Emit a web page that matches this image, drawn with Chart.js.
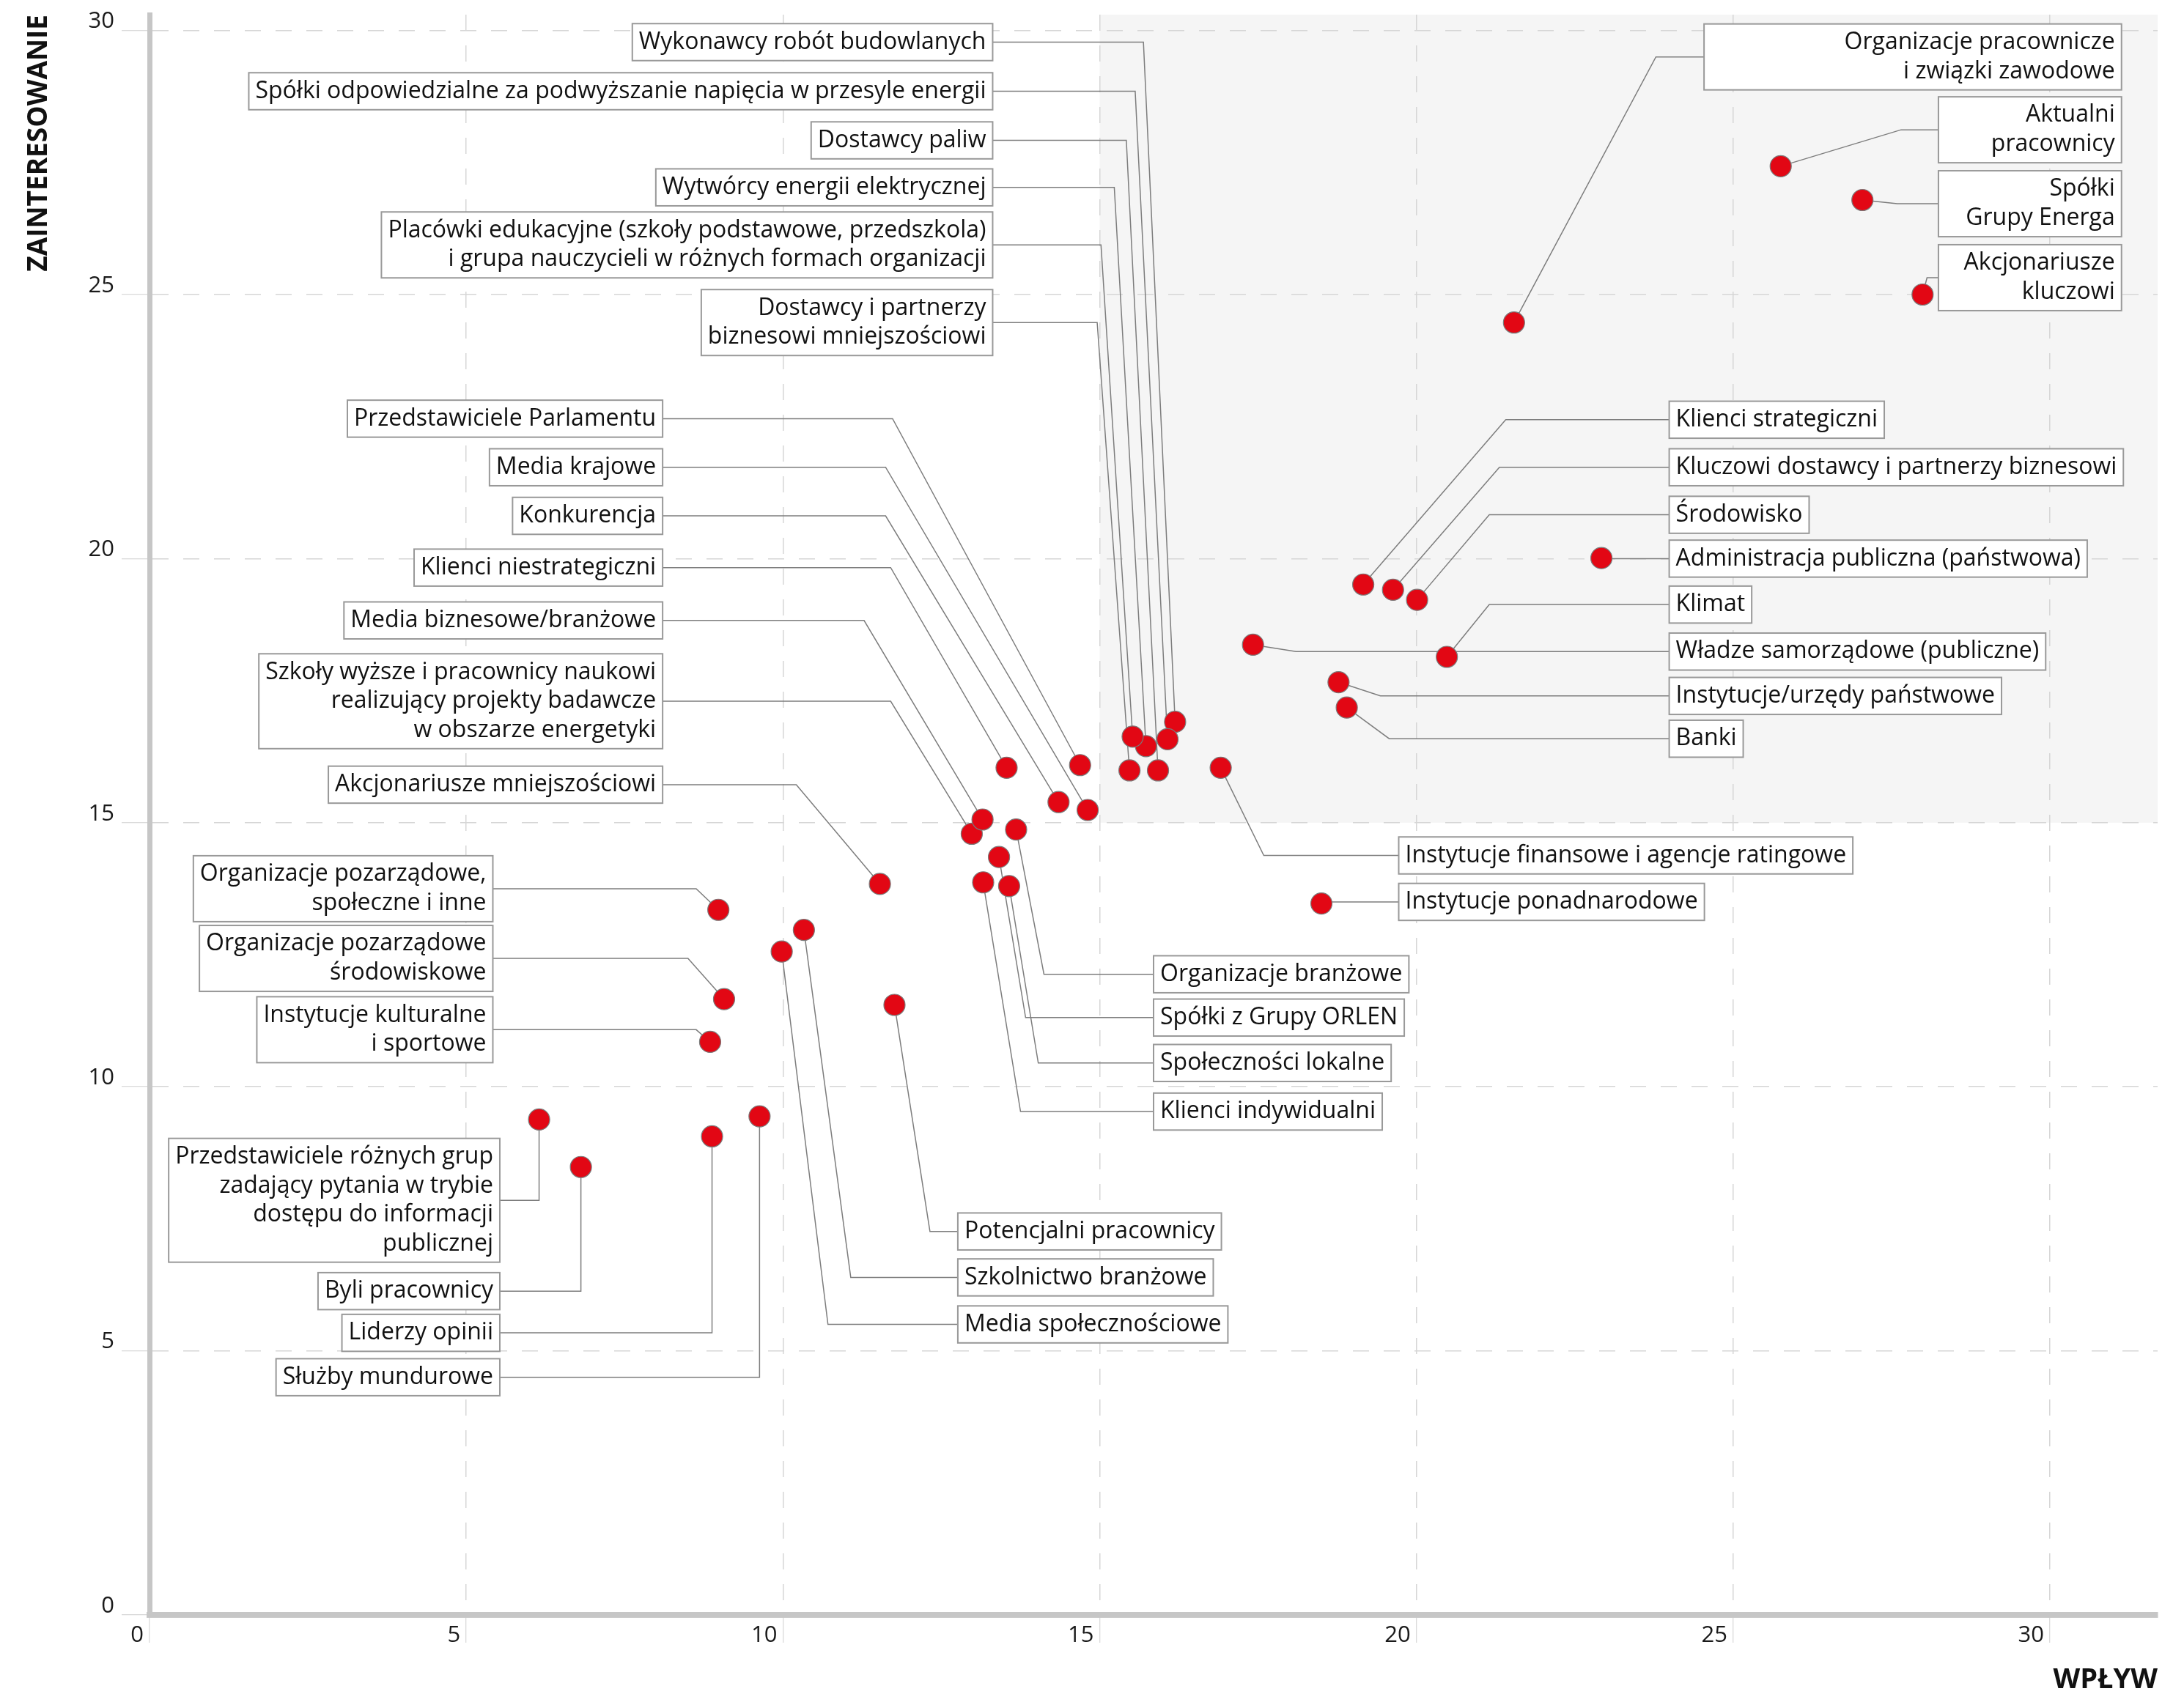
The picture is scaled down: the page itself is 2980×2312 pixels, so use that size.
<!DOCTYPE html>
<html>
<head>
<meta charset="utf-8">
<script src="https://cdn.jsdelivr.net/npm/chart.js@4.4.1/dist/chart.umd.min.js"></script>
<style>
    html, body { margin: 0; padding: 0; background: #fff; }
    #wrap { width: 2980px; height: 2312px; }
</style>
</head>
<body>
<div id="wrap"><canvas id="chart" width="2980" height="2312"></canvas></div>
<script>
// --- dane: interesariusze ---
const names = [
    'Wykonawcy robót budowlanych',
    'Spółki odpowiedzialne za podwyższanie napięcia w przesyle energii',
    'Dostawcy paliw',
    'Wytwórcy energii elektrycznej',
    'Placówki edukacyjne (szkoły podstawowe, przedszkola)\ni grupa nauczycieli w różnych formach organizacji',
    'Dostawcy i partnerzy\nbiznesowi mniejszościowi',
    'Przedstawiciele Parlamentu',
    'Media krajowe',
    'Konkurencja',
    'Klienci niestrategiczni',
    'Szkoły wyższe i pracownicy naukowi\nrealizujący projekty badawcze\nw obszarze energetyki',
    'Media biznesowe/branżowe',
    'Akcjonariusze mniejszościowi',
    'Organizacje pozarządowe,\nspołeczne i inne',
    'Organizacje pozarządowe\nśrodowiskowe',
    'Instytucje kulturalne\ni sportowe',
    'Przedstawiciele różnych grup\nzadający pytania w trybie\ndostępu do informacji\npublicznej',
    'Byli pracownicy',
    'Liderzy opinii',
    'Służby mundurowe',
    'Potencjalni pracownicy',
    'Szkolnictwo branżowe',
    'Media społecznościowe',
    'Organizacje branżowe',
    'Spółki z Grupy ORLEN',
    'Społeczności lokalne',
    'Klienci indywidualni',
    'Instytucje finansowe i agencje ratingowe',
    'Instytucje ponadnarodowe',
    'Klienci strategiczni',
    'Kluczowi dostawcy i partnerzy biznesowi',
    'Środowisko',
    'Administracja publiczna (państwowa)',
    'Klimat',
    'Władze samorządowe (publiczne)',
    'Instytucje/urzędy państwowe',
    'Banki',
    'Organizacje pracownicze\ni związki zawodowe',
    'Aktualni\npracownicy',
    'Spółki\nGrupy Energa',
    'Akcjonariusze\nkluczowi'
];

// WPŁYW (oś X)
const impact = [
    16.19, 16.07, 15.92, 15.73, 15.52, 15.47,
    14.69, 14.81, 14.35, 13.53, 12.98, 13.15, 11.53,
    8.98, 9.07, 8.85,
    6.15, 6.81, 8.88, 9.63,
    11.76, 10.33, 9.98,
    13.68, 13.41, 13.57, 13.16,
    16.91, 18.50,
    19.16, 19.63, 20.01, 22.92, 20.48, 17.42, 18.77, 18.90,
    21.54, 25.75, 27.04, 27.99
];

// ZAINTERESOWANIE (oś Y)
const interest = [
    16.91, 16.58, 15.99, 16.45, 16.63, 15.99,
    16.09, 15.24, 15.39, 16.04, 14.79, 15.06, 13.84,
    13.35, 11.66, 10.85,
    9.38, 8.48, 9.06, 9.44,
    11.55, 12.97, 12.56,
    14.87, 14.35, 13.80, 13.87,
    16.04, 13.47,
    19.51, 19.41, 19.22, 20.01, 18.14, 18.37, 17.66, 17.18,
    24.47, 27.43, 26.79, 25.00
];

const tickValues = [0, 5, 10, 15, 20, 25, 30];

// --- rozmieszczenie ramek z opisami (w jednostkach osi) ---
// side: po której stronie krawędzi x leży ramka, y: środek ramki, ex: załamanie linii
const labelLayout = [
    { side: 'left', x: 13.31, y: 29.78, ex: 15.69 },
    { side: 'left', x: 13.31, y: 28.85, ex: 15.56 },
    { side: 'left', x: 13.31, y: 27.92, ex: 15.42 },
    { side: 'left', x: 13.31, y: 27.03, ex: 15.23 },
    { side: 'left', x: 13.31, y: 25.94, ex: 15.02 },
    { side: 'left', x: 13.31, y: 24.47, ex: 14.96 },
    { side: 'left', x: 8.10, y: 22.65, ex: 11.73 },
    { side: 'left', x: 8.10, y: 21.73, ex: 11.62 },
    { side: 'left', x: 8.10, y: 20.81, ex: 11.62 },
    { side: 'left', x: 8.10, y: 19.83, ex: 11.70 },
    { side: 'left', x: 8.10, y: 17.30, ex: 11.70 },
    { side: 'left', x: 8.10, y: 18.83, ex: 11.28 },
    { side: 'left', x: 8.10, y: 15.72, ex: 10.21 },
    { side: 'left', x: 5.42, y: 13.75, ex: 8.63 },
    { side: 'left', x: 5.42, y: 12.43, ex: 8.50 },
    { side: 'left', x: 5.42, y: 11.08, ex: 8.63 },
    { side: 'left', x: 5.53, y: 7.85, ex: 6.15 },
    { side: 'left', x: 5.53, y: 6.13, ex: 6.81 },
    { side: 'left', x: 5.53, y: 5.34, ex: 8.88 },
    { side: 'left', x: 5.53, y: 4.50, ex: 9.63 },
    { side: 'right', x: 12.76, y: 7.26, ex: 12.32 },
    { side: 'right', x: 12.76, y: 6.39, ex: 11.07 },
    { side: 'right', x: 12.76, y: 5.50, ex: 10.71 },
    { side: 'right', x: 15.85, y: 12.13, ex: 14.12 },
    { side: 'right', x: 15.85, y: 11.31, ex: 13.83 },
    { side: 'right', x: 15.85, y: 10.45, ex: 14.03 },
    { side: 'right', x: 15.85, y: 9.53, ex: 13.75 },
    { side: 'right', x: 19.72, y: 14.38, ex: 17.59 },
    { side: 'right', x: 19.72, y: 13.50, ex: 18.60 },
    { side: 'right', x: 23.99, y: 22.63, ex: 21.41 },
    { side: 'right', x: 23.99, y: 21.73, ex: 21.31 },
    { side: 'right', x: 23.99, y: 20.83, ex: 21.15 },
    { side: 'right', x: 23.99, y: 20.00, ex: 23.00 },
    { side: 'right', x: 23.99, y: 19.13, ex: 21.15 },
    { side: 'right', x: 23.99, y: 18.24, ex: 18.10 },
    { side: 'right', x: 23.99, y: 17.40, ex: 19.43 },
    { side: 'right', x: 23.99, y: 16.59, ex: 19.57 },
    { side: 'right', x: 24.54, y: 29.50, ex: 23.78, x2: 31.13 },
    { side: 'right', x: 28.24, y: 28.12, ex: 27.65, x2: 31.13 },
    { side: 'right', x: 28.24, y: 26.72, ex: 27.59, x2: 31.13 },
    { side: 'right', x: 28.24, y: 25.32, ex: 28.06, x2: 31.13 }
];

const FONT = '"Open Sans", sans-serif';
const BOX_FONT_PX = 32;
const LINE_H = 39.5;
const PAD_X = 9;
const PAD_Y = 5.5;

Chart.defaults.font.family = FONT;
Chart.defaults.color = '#111';

function boxGeom(ctx, xs, ys, i) {
    const L = labelLayout[i];
    const lines = names[i].split('\n');
    ctx.font = BOX_FONT_PX + 'px ' + FONT;
    const textW = Math.max(...lines.map(t => ctx.measureText(t).width));
    const edge = xs.getPixelForValue(L.x);
    const w = L.x2 !== undefined ? xs.getPixelForValue(L.x2) - edge : textW + 2 * PAD_X;
    const h = lines.length * LINE_H + 2 * PAD_Y;
    const my = ys.getPixelForValue(L.y);
    const left = L.side === 'left' ? edge - w : edge;
    return { lines, left, top: my - h / 2, w, h, my, ax: edge };
}

// --- tło ćwiartki, linie odniesienia i ramki ---
const labelPlugin = {
    id: 'labelBoxes',
    beforeDraw(chart) {
        const { ctx, chartArea: a, scales: { x, y } } = chart;
        const x0 = x.getPixelForValue(15);
        const y0 = y.getPixelForValue(15);
        ctx.save();
        ctx.fillStyle = '#f5f5f5';
        ctx.fillRect(x0, a.top, a.right - x0, y0 - a.top);
        ctx.restore();
    },
    beforeDatasetsDraw(chart) {
        const { ctx, scales: { x, y } } = chart;
        ctx.save();
        ctx.strokeStyle = '#7d7d7d';
        ctx.lineWidth = 1.5;
        labelLayout.forEach((L, i) => {
            const b = boxGeom(ctx, x, y, i);
            ctx.beginPath();
            ctx.moveTo(x.getPixelForValue(impact[i]), y.getPixelForValue(interest[i]));
            ctx.lineTo(x.getPixelForValue(L.ex), b.my);
            ctx.lineTo(b.ax, b.my);
            ctx.stroke();
        });
        ctx.restore();
    },
    afterDatasetsDraw(chart) {
        const { ctx, scales: { x, y } } = chart;
        ctx.save();
        labelLayout.forEach((L, i) => {
            const b = boxGeom(ctx, x, y, i);
            ctx.fillStyle = '#fff';
            ctx.fillRect(b.left, b.top, b.w, b.h);
            ctx.strokeStyle = '#999';
            ctx.lineWidth = 2;
            ctx.strokeRect(b.left, b.top, b.w, b.h);
            ctx.fillStyle = '#111';
            ctx.textAlign = 'right';
            ctx.textBaseline = 'middle';
            b.lines.forEach((t, k) => {
                ctx.fillText(t, b.left + b.w - PAD_X, b.top + PAD_Y + LINE_H * (k + 0.5));
            });
        });
        ctx.restore();
    }
};

const gridOpts = {
    color: '#d6d6d6',
    lineWidth: 1.5,
    tickLength: 38,
    tickColor: '#cfcfcf',
    tickWidth: 1
};

new Chart(document.getElementById('chart'), {
    type: 'scatter',
    data: {
        datasets: [{
            data: impact.map((v, i) => ({ x: v, y: interest[i] })),
            pointRadius: 14.5,
            pointHoverRadius: 14.5,
            pointBackgroundColor: '#e20714',
            pointBorderColor: '#7a7a7a',
            pointBorderWidth: 1.2
        }]
    },
    options: {
        responsive: false,
        animation: false,
        layout: { padding: { left: 0, right: 36, top: 20, bottom: 0 } },
        plugins: { legend: { display: false }, tooltip: { enabled: false } },
        scales: {
            x: {
                type: 'linear', min: 0, max: 31.7,
                afterFit: s => { s.height = 108; s.paddingLeft = 0; s.paddingRight = 0; },
                afterBuildTicks: s => { s.ticks = tickValues.map(v => ({ value: v })); },
                grid: gridOpts,
                border: { display: true, color: '#c6c6c6', width: 8, dash: [22, 20] },
                ticks: {
                    align: 'end', labelOffset: -8, padding: -28,
                    maxRotation: 0, autoSkip: false,
                    color: '#1a1a1a', font: { size: 31 }
                },
                title: {
                    display: true, text: 'WPŁYW', align: 'end', color: '#111',
                    font: { size: 38, weight: 'bold', lineHeight: 1 }, padding: 0
                }
            },
            y: {
                type: 'linear', min: 0, max: 30.3,
                afterFit: s => { s.width = 204; s.paddingTop = 0; s.paddingBottom = 0; },
                afterBuildTicks: s => { s.ticks = tickValues.map(v => ({ value: v })); },
                grid: gridOpts,
                border: { display: true, color: '#c6c6c6', width: 7, dash: [22, 20] },
                ticks: {
                    labelOffset: -12, padding: 10, autoSkip: false,
                    color: '#1a1a1a', font: { size: 31 }
                },
                title: {
                    display: true, text: 'ZAINTERESOWANIE', align: 'end', color: '#111',
                    font: { size: 37, weight: 'bold' }, padding: { top: 31, bottom: 0 }
                }
            }
        }
    },
    plugins: [labelPlugin]
});
</script>
</body>
</html>
